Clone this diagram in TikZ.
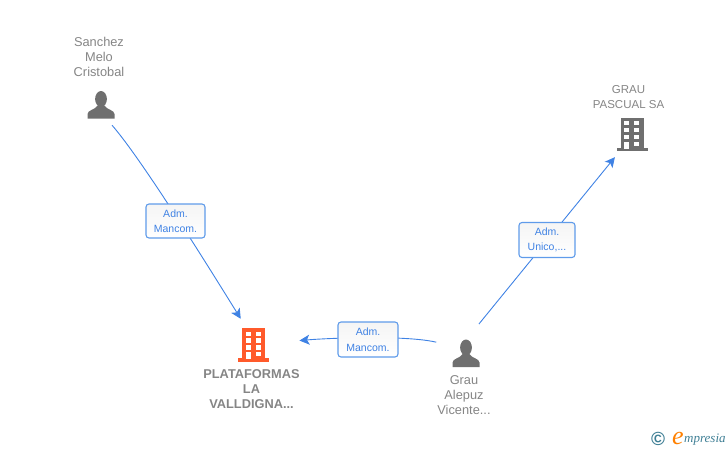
\documentclass[tikz,border=0pt]{standalone}
\usepackage{fontspec}
\setmainfont{Liberation Sans}
\newfontfamily\logofont{Liberation Serif}
\usetikzlibrary{arrows.meta,positioning}
\definecolor{linkblue}{HTML}{3F82E4}
\definecolor{badgeblue}{HTML}{5F9BEA}
\definecolor{icongray}{HTML}{6F6F6F}
\definecolor{namegray}{HTML}{858585}
\definecolor{plataorange}{HTML}{FF5A2B}
\definecolor{logoteal}{HTML}{3F7F95}
\tikzset{
    personicon/.pic={
        \path[pic actions] (0,-5.5) ellipse [x radius=5.9, y radius=8];
        \path[pic actions] (-13.5,14) -- (-13.5,9.5) .. controls (-13.5,5.5) and (-6,5.5) .. (-3.5,1)
            -- (3.5,1) .. controls (6,5.5) and (13.5,5.5) .. (13.5,9.5) -- (13.5,14) -- cycle;
    },
    buildingicon/.pic={
        \path[pic actions] (-11.5,-17) rectangle (11.5,15);
        \path[pic actions] (-15.5,13) rectangle (15.5,16.5);
        \foreach \row in {-13.5,-6.7,0.1} {
            \fill[white] (-7.6,\row) rectangle (-2.6,\row+4.4);
            \fill[white] (2.4,\row) rectangle (7.4,\row+4.4);
        }
        \fill[white] (-7.6,7) rectangle (-2.6,14);
        \fill[white] (2.4,7) rectangle (7.4,11.4);
    },
    iconnode/.style={circle,inner sep=0pt,minimum size=#1},
    namenode/.style={align=center,text=namegray,inner sep=0pt,font=\fontsize{12.8}{15}\selectfont},
    badge/.style={draw=badgeblue,line width=1.1pt,rounded corners=3pt,top color=black!4,bottom color=white,
        text=linkblue,align=center,inner sep=0pt,font=\fontsize{10.5}{15.5}\selectfont},
    link/.style={->,linkblue,line width=0.9pt}
}
\begin{document}
\begin{tikzpicture}[x=1pt,y=-1pt,>={Stealth[length=10pt,width=10pt,inset=2.5pt]}]
    \useasboundingbox (0,0) rectangle (728,450);

    \node[iconnode=46.6pt] (sanchez) at (101,104.5) {};
    \node[iconnode=58pt]   (plata)   at (253.5,345) {};
    \node[iconnode=63pt]   (grau)    at (466,353)   {};
    \node[iconnode=56.4pt] (pascual) at (632,134.5) {};

    \pic[fill=icongray]    at (sanchez) {personicon};
    \pic[fill=plataorange] at (plata)   {buildingicon};
    \pic[fill=icongray]    at (grau)    {personicon};
    \pic[fill=icongray]    at (pascual) {buildingicon};

    \node[namenode] (sanchezname) at (99,57)     {Sanchez\\Melo\\Cristobal};
    \node[namenode,font=\fontsize{12.8}{15}\selectfont\bfseries] (plataname) at (251.5,389) {PLATAFORMAS\\LA\\VALLDIGNA...};
    \node[namenode] (grauname)    at (464,395)   {Grau\\Alepuz\\Vicente...};
    \node[namenode,font=\fontsize{11.5}{15}\selectfont] (pascualname) at (628.5,97) {GRAU\\PASCUAL SA};

    \draw[link] (sanchez.-62) .. controls (132.3,148.3) and (175.3,213) .. (plata.116);
    \draw[link] (grau.66) -- (pascual.233);
    \draw[link,shorten >=17pt] (grau.160) .. controls (405,335) and (330,338) .. (plata.6);

    \node[badge,minimum width=59pt,minimum height=34pt] (badgeA) at (175.5,221) {Adm.\\Mancom.};
    \node[badge,minimum width=60pt,minimum height=35pt] (badgeB) at (368,339.5) {Adm.\\Mancom.};
    \node[badge,minimum width=56pt,minimum height=35pt] (badgeC) at (547,240)   {Adm.\\Unico,...};

    % logo
    \node[inner sep=0pt,text=logoteal,font=\fontsize{19}{19}\selectfont\bfseries] (logoc) at (658,439) {©};
    \node[inner sep=0pt,text=orange,font=\logofont\itshape\fontsize{26}{26}\selectfont] (logoe) at (678,438.5) {e};
    \node[inner sep=0pt,text=logoteal,anchor=west,font=\logofont\itshape\fontsize{13}{13}\selectfont] (logotext) at (684,439.5) {mpresia};
\end{tikzpicture}
\end{document}
